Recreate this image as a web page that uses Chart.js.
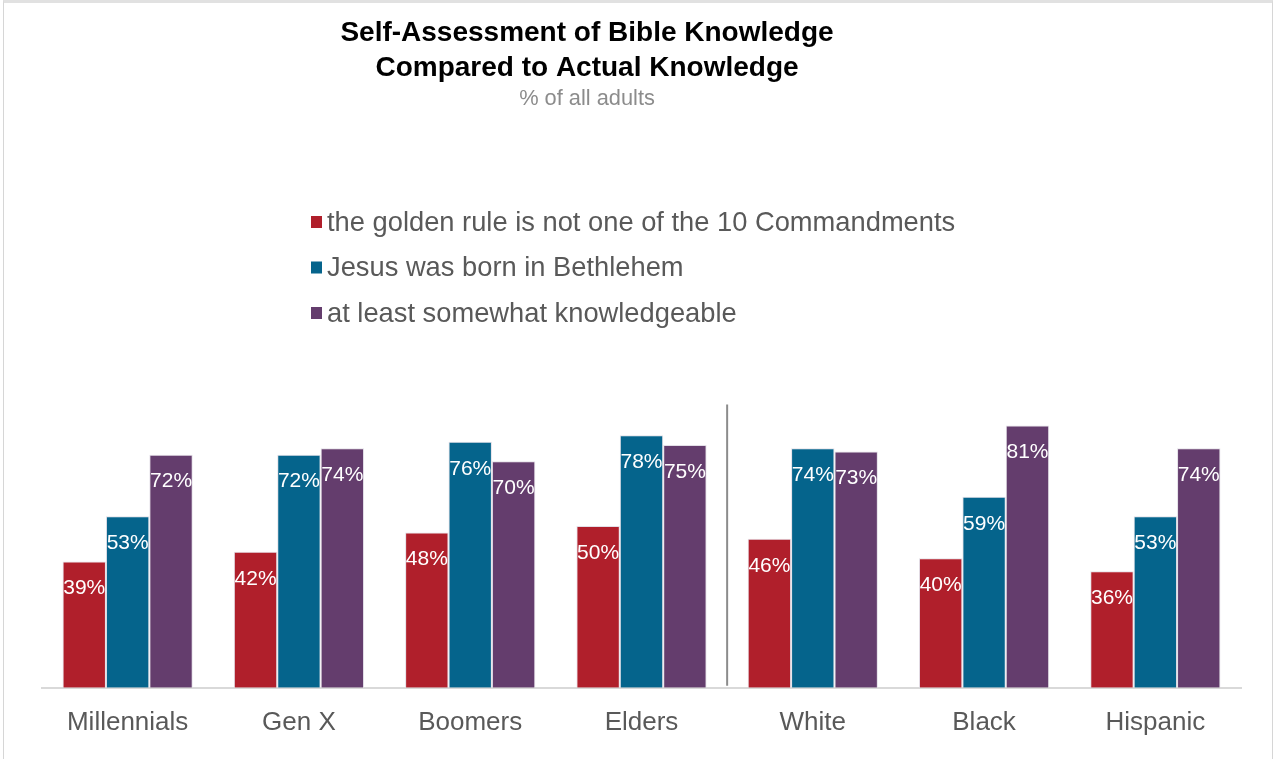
<!DOCTYPE html>
<html>
<head>
<meta charset="utf-8">
<script src="https://cdn.jsdelivr.net/npm/chart.js@4.4.1/dist/chart.umd.min.js"></script>
<style>
  html, body { margin: 0; padding: 0; background: #fff; overflow: hidden; }
  #frame {
    position: absolute; left: 3px; top: 0; width: 1268px; height: 770px;
    border-top: 3px solid #e1e1e1; border-left: 1px solid #d6d6d6; border-right: 1px solid #d6d6d6;
  }
  #myChart { position: absolute; left: 0; top: 0; }
</style>
</head>
<body>
<div id="frame"></div>
<canvas id="myChart" width="1275" height="759"></canvas>
<script>
var groups = ['Millennials', 'Gen X', 'Boomers', 'Elders', 'White', 'Black', 'Hispanic'];
var seriesNames = ['the golden rule is not one of the 10 Commandments', 'Jesus was born in Bethlehem', 'at least somewhat knowledgeable'];
var goldenRule = [39, 42, 48, 50, 46, 40, 36];
var bethlehem = [53, 72, 76, 78, 74, 59, 53];
var knowledgeable = [72, 74, 70, 75, 73, 81, 74];
var titleLines = ['Self-Assessment of Bible Knowledge', 'Compared to Actual Knowledge'];
var subTitle = '% of all adults';

var colors = ['#b01f2b', '#05648c', '#643d6d'];
var FONT = "'Liberation Sans', Arial, Helvetica, sans-serif";

// title, subtitle and the stacked legend on the left
var headerPlugin = {
    id: 'header',
    afterDraw: function (chart) {
        var c = chart.ctx;
        c.save();
        c.textAlign = 'center';
        c.textBaseline = 'middle';
        c.fillStyle = '#000';
        c.font = 'bold 28px ' + FONT;
        c.fillText(titleLines[0], 587, 33);
        c.fillText(titleLines[1], 587, 68);
        c.fillStyle = '#8c8c8c';
        c.font = '21.8px ' + FONT;
        c.fillText(subTitle, 587, 99);

        c.textAlign = 'left';
        c.font = '27.3px ' + FONT;
        chart.data.datasets.forEach(function (ds, i) {
            var y = 222 + i * 45.5;
            c.fillStyle = ds.backgroundColor;
            c.fillRect(311, y - 6, 11, 12);
            c.fillStyle = '#595959';
            c.fillText(ds.label, 327, y + 1);
        });
        c.restore();
    }
};

// value labels inside the bars, and the divider between age and race groups
var barTextPlugin = {
    id: 'barText',
    afterDatasetsDraw: function (chart) {
        var c = chart.ctx;
        var xs = chart.scales.x, ys = chart.scales.y;
        c.save();
        var xm = (xs.getPixelForValue(3) + xs.getPixelForValue(4)) / 2;
        c.strokeStyle = '#8c8c8c';
        c.lineWidth = 2;
        c.beginPath();
        c.moveTo(xm, ys.getPixelForValue(87.5));
        c.lineTo(xm, ys.getPixelForValue(0) - 2);
        c.stroke();

        c.fillStyle = '#fff';
        c.textAlign = 'center';
        c.textBaseline = 'middle';
        c.font = '21px ' + FONT;
        chart.data.datasets.forEach(function (ds, i) {
            chart.getDatasetMeta(i).data.forEach(function (bar, j) {
                c.fillText(ds.data[j] + '%', bar.x, bar.y + 27);
            });
        });
        c.restore();
    }
};

var ctx = document.getElementById('myChart').getContext('2d');
var myChart = new Chart(ctx, {
    type: 'bar',
    data: {
        labels: groups,
        datasets: [
            { label: seriesNames[0], data: goldenRule, backgroundColor: colors[0] },
            { label: seriesNames[1], data: bethlehem, backgroundColor: colors[1] },
            { label: seriesNames[2], data: knowledgeable, backgroundColor: colors[2] }
        ]
    },
    options: {
        responsive: false,
        animation: false,
        devicePixelRatio: 1,
        layout: { padding: { top: 364, left: 42, right: 34, bottom: 2 } },
        datasets: {
            bar: {
                categoryPercentage: 0.76,
                barPercentage: 1,
                borderWidth: 1,
                borderColor: 'rgba(220, 215, 225, 0.8)',
                borderSkipped: 'bottom'
            }
        },
        plugins: {
            legend: { display: false },
            title: { display: false },
            tooltip: { enabled: false }
        },
        scales: {
            x: {
                grid: { display: true, drawOnChartArea: false, drawTicks: false },
                border: { display: true, color: '#d9d9d9', width: 2 },
                ticks: { color: '#595959', padding: 19, font: { size: 26, family: FONT } }
            },
            y: {
                display: false,
                min: 0,
                max: 100
            }
        }
    },
    plugins: [headerPlugin, barTextPlugin]
});
</script>
</body>
</html>
